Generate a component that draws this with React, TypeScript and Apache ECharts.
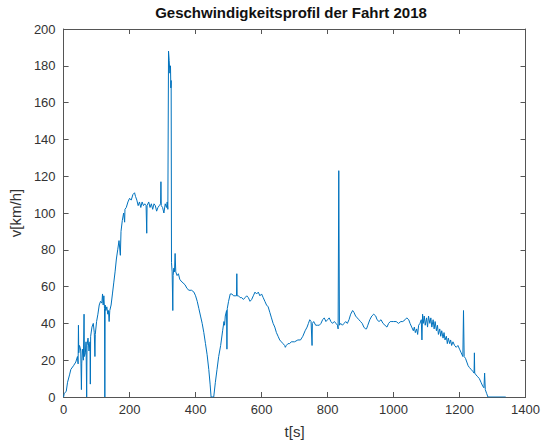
import React, { useEffect, useRef } from "react";
import * as echarts from "echarts";

const titleText = "Geschwindigkeitsprofil der Fahrt 2018";
const xName = "t[s]";
const yName = "v[km/h]";

const timeS: number[] = [
  0, 2, 8, 12, 18, 22, 30, 37, 42, 44, 45, 46, 48, 50, 52, 54, 55, 57, 60, 62, 63, 66, 68, 70, 71, 74, 77, 80, 81, 82,
  86, 90, 93, 95, 96, 100, 104, 108, 112, 116, 118, 120, 122, 124, 125, 126, 128, 131, 134, 136, 138, 140, 144, 148,
  152, 156, 160, 164, 168, 172, 174, 178, 182, 185, 186, 190, 195, 200, 205, 210, 215, 218, 222, 226, 230, 234, 238,
  242, 246, 250, 252, 253, 258, 262, 266, 270, 274, 278, 282, 286, 290, 294, 295, 296, 300, 304, 308, 312, 314, 316,
  318, 320, 322, 324, 325, 326, 327, 329, 331, 332, 334, 336, 338, 340, 344, 348, 352, 356, 362, 368, 374, 380, 388,
  395, 400, 405, 410, 415, 420, 425, 430, 435, 440, 444, 447, 455, 460, 465, 470, 476, 482, 486, 488, 490, 494, 495,
  496, 500, 505, 510, 515, 520, 524, 525, 526, 530, 535, 540, 545, 550, 555, 560, 565, 570, 575, 580, 585, 590, 595,
  600, 605, 610, 615, 620, 625, 630, 635, 640, 645, 650, 655, 660, 665, 670, 672, 675, 680, 685, 690, 700, 710, 718,
  725, 732, 738, 742, 746, 750, 753, 754, 758, 764, 770, 775, 780, 785, 790, 795, 800, 805, 810, 815, 820, 826, 830,
  832, 834, 836, 840, 845, 850, 855, 860, 865, 870, 876, 880, 885, 890, 895, 900, 905, 910, 915, 918, 922, 928, 934,
  940, 946, 950, 956, 962, 968, 974, 980, 985, 990, 995, 1000, 1008, 1015, 1022, 1028, 1035, 1040, 1046, 1050, 1055,
  1060, 1063, 1066, 1070, 1073, 1076, 1080, 1084, 1086, 1088, 1090, 1093, 1096, 1100, 1103, 1106, 1110, 1113, 1116,
  1120, 1123, 1126, 1130, 1133, 1136, 1140, 1143, 1146, 1150, 1153, 1156, 1160, 1163, 1166, 1170, 1173, 1176, 1180,
  1185, 1190, 1195, 1200, 1205, 1210, 1212, 1214, 1218, 1222, 1226, 1230, 1235, 1240, 1244, 1245, 1246, 1250, 1255,
  1260, 1265, 1270, 1274, 1276, 1278, 1282, 1286, 1340,
];

const speedKmh: number[] = [
  0, 2, 3, 8, 12, 15, 17, 19, 22, 18, 39, 24, 28, 27, 25, 4, 18, 26, 20, 45, 22, 24, 30, 0, 28, 32, 25, 30, 7, 33,
  38, 40, 35, 22, 34, 41, 45, 50, 52, 51, 56, 50, 55, 48, 0, 50, 47, 49, 45, 47, 41, 47, 50, 56,
  62, 68, 75, 80, 85, 77, 90, 96, 100, 95, 102, 103, 106, 108, 107, 110, 111, 109, 107, 104, 106, 103, 106,
  104, 105, 104, 89, 104, 106, 103, 105, 102, 105, 104, 101, 103, 104, 105, 117, 104, 103, 100, 105, 103, 106, 102,
  188, 183, 176, 180, 168, 172, 73, 68, 47, 66, 70, 68, 78, 68, 66, 67, 64, 63, 62, 61, 59, 58, 58,
  57, 55, 52, 48, 44, 40, 35, 29, 23, 15, 7, 0, 0, 8, 15, 22, 28, 36, 41, 39, 44, 47, 26,
  48, 52, 56, 56, 55, 55, 55, 67, 55, 55, 54, 54, 53, 54, 55, 54, 52, 53, 55, 57, 56, 57, 55,
  56, 54, 52, 50, 49, 46, 43, 40, 38, 35, 33, 31, 30, 29, 28, 27, 28, 29, 29, 30, 30, 31, 31,
  33, 36, 38, 40, 42, 41, 28, 40, 41, 39, 39, 39, 40, 42, 43, 41, 42, 43, 41, 40, 41, 40, 39,
  37, 123, 39, 40, 39, 40, 41, 40, 42, 45, 47, 46, 44, 43, 42, 41, 40, 38, 37, 37, 39, 42, 44,
  45, 44, 42, 41, 42, 40, 39, 38, 40, 41, 41, 41, 41, 40, 41, 41, 42, 43, 42, 40, 38,
  36, 38, 35, 37, 34, 39, 40, 42, 31, 45, 40, 44, 39, 43, 38, 44, 40, 43, 38,
  42, 37, 41, 36, 39, 34, 37, 33, 36, 32, 35, 31, 33, 29, 32, 29, 31, 28, 30,
  28, 27, 28, 26, 24, 22, 47, 22, 21, 19, 17, 16, 15, 14, 13, 24, 13, 12, 11,
  10, 8, 6, 5, 13, 4, 2, 0, 0,
];

const xTicks = { min: 0, max: 1400, interval: 200 };
const yTicks = { min: 0, max: 200, interval: 20 };

export default function App() {
  const ref = useRef<HTMLDivElement>(null);
  useEffect(() => {
    if (!ref.current) return;
    const chart = echarts.init(ref.current, undefined, { renderer: "svg" });
    const data = timeS.map((t, i) => [t, speedKmh[i]]);
    const axisColor = "#555555";
    const labelColor = "#333333";
    const font = "Liberation Sans, Arial, sans-serif";
    const baseX = {
      type: "value" as const,
      min: xTicks.min,
      max: xTicks.max,
      interval: xTicks.interval,
      splitLine: { show: false },
      axisLine: { show: true, onZero: false, lineStyle: { color: axisColor, width: 1 } },
      axisTick: { show: true, inside: true, length: 5, lineStyle: { color: axisColor } },
    };
    const baseY = {
      type: "value" as const,
      min: yTicks.min,
      max: yTicks.max,
      interval: yTicks.interval,
      splitLine: { show: false },
      axisLine: { show: true, onZero: false, lineStyle: { color: axisColor, width: 1 } },
      axisTick: { show: true, inside: true, length: 5, lineStyle: { color: axisColor } },
    };
    chart.setOption({
      animation: false,
      backgroundColor: "#ffffff",
      title: {
        text: titleText,
        left: 286,
        top: 0,
        textAlign: "center",
        textStyle: { fontFamily: font, fontSize: 15, fontWeight: "bold", color: "#111111" },
      },
      grid: { left: 61, right: 16, top: 29, bottom: 47 },
      xAxis: [
        {
          ...baseX,
          position: "bottom",
          name: xName,
          nameLocation: "middle",
          nameGap: 27,
          nameTextStyle: { fontFamily: font, fontSize: 15, color: labelColor },
          axisLabel: {
            fontFamily: font,
            fontSize: 13,
            color: labelColor,
            margin: 6,
            formatter: (v: number) => String(v),
          },
        },
        { ...baseX, position: "top", axisLabel: { show: false } },
      ],
      yAxis: [
        {
          ...baseY,
          position: "left",
          name: yName,
          nameLocation: "middle",
          nameGap: 36,
          nameTextStyle: { fontFamily: font, fontSize: 15, color: labelColor },
          axisLabel: { fontFamily: font, fontSize: 13, color: labelColor, margin: 8 },
        },
        { ...baseY, position: "right", axisLabel: { show: false } },
      ],
      series: [
        {
          type: "line",
          data,
          xAxisIndex: 0,
          yAxisIndex: 0,
          showSymbol: false,
          symbol: "none",
          lineStyle: { color: "#0072BD", width: 1 },
        },
      ],
    });
    return () => chart.dispose();
  }, []);
  return <div ref={ref} style={{ position: "fixed", left: 0, top: 0, width: 543, height: 444 }} />;
}
